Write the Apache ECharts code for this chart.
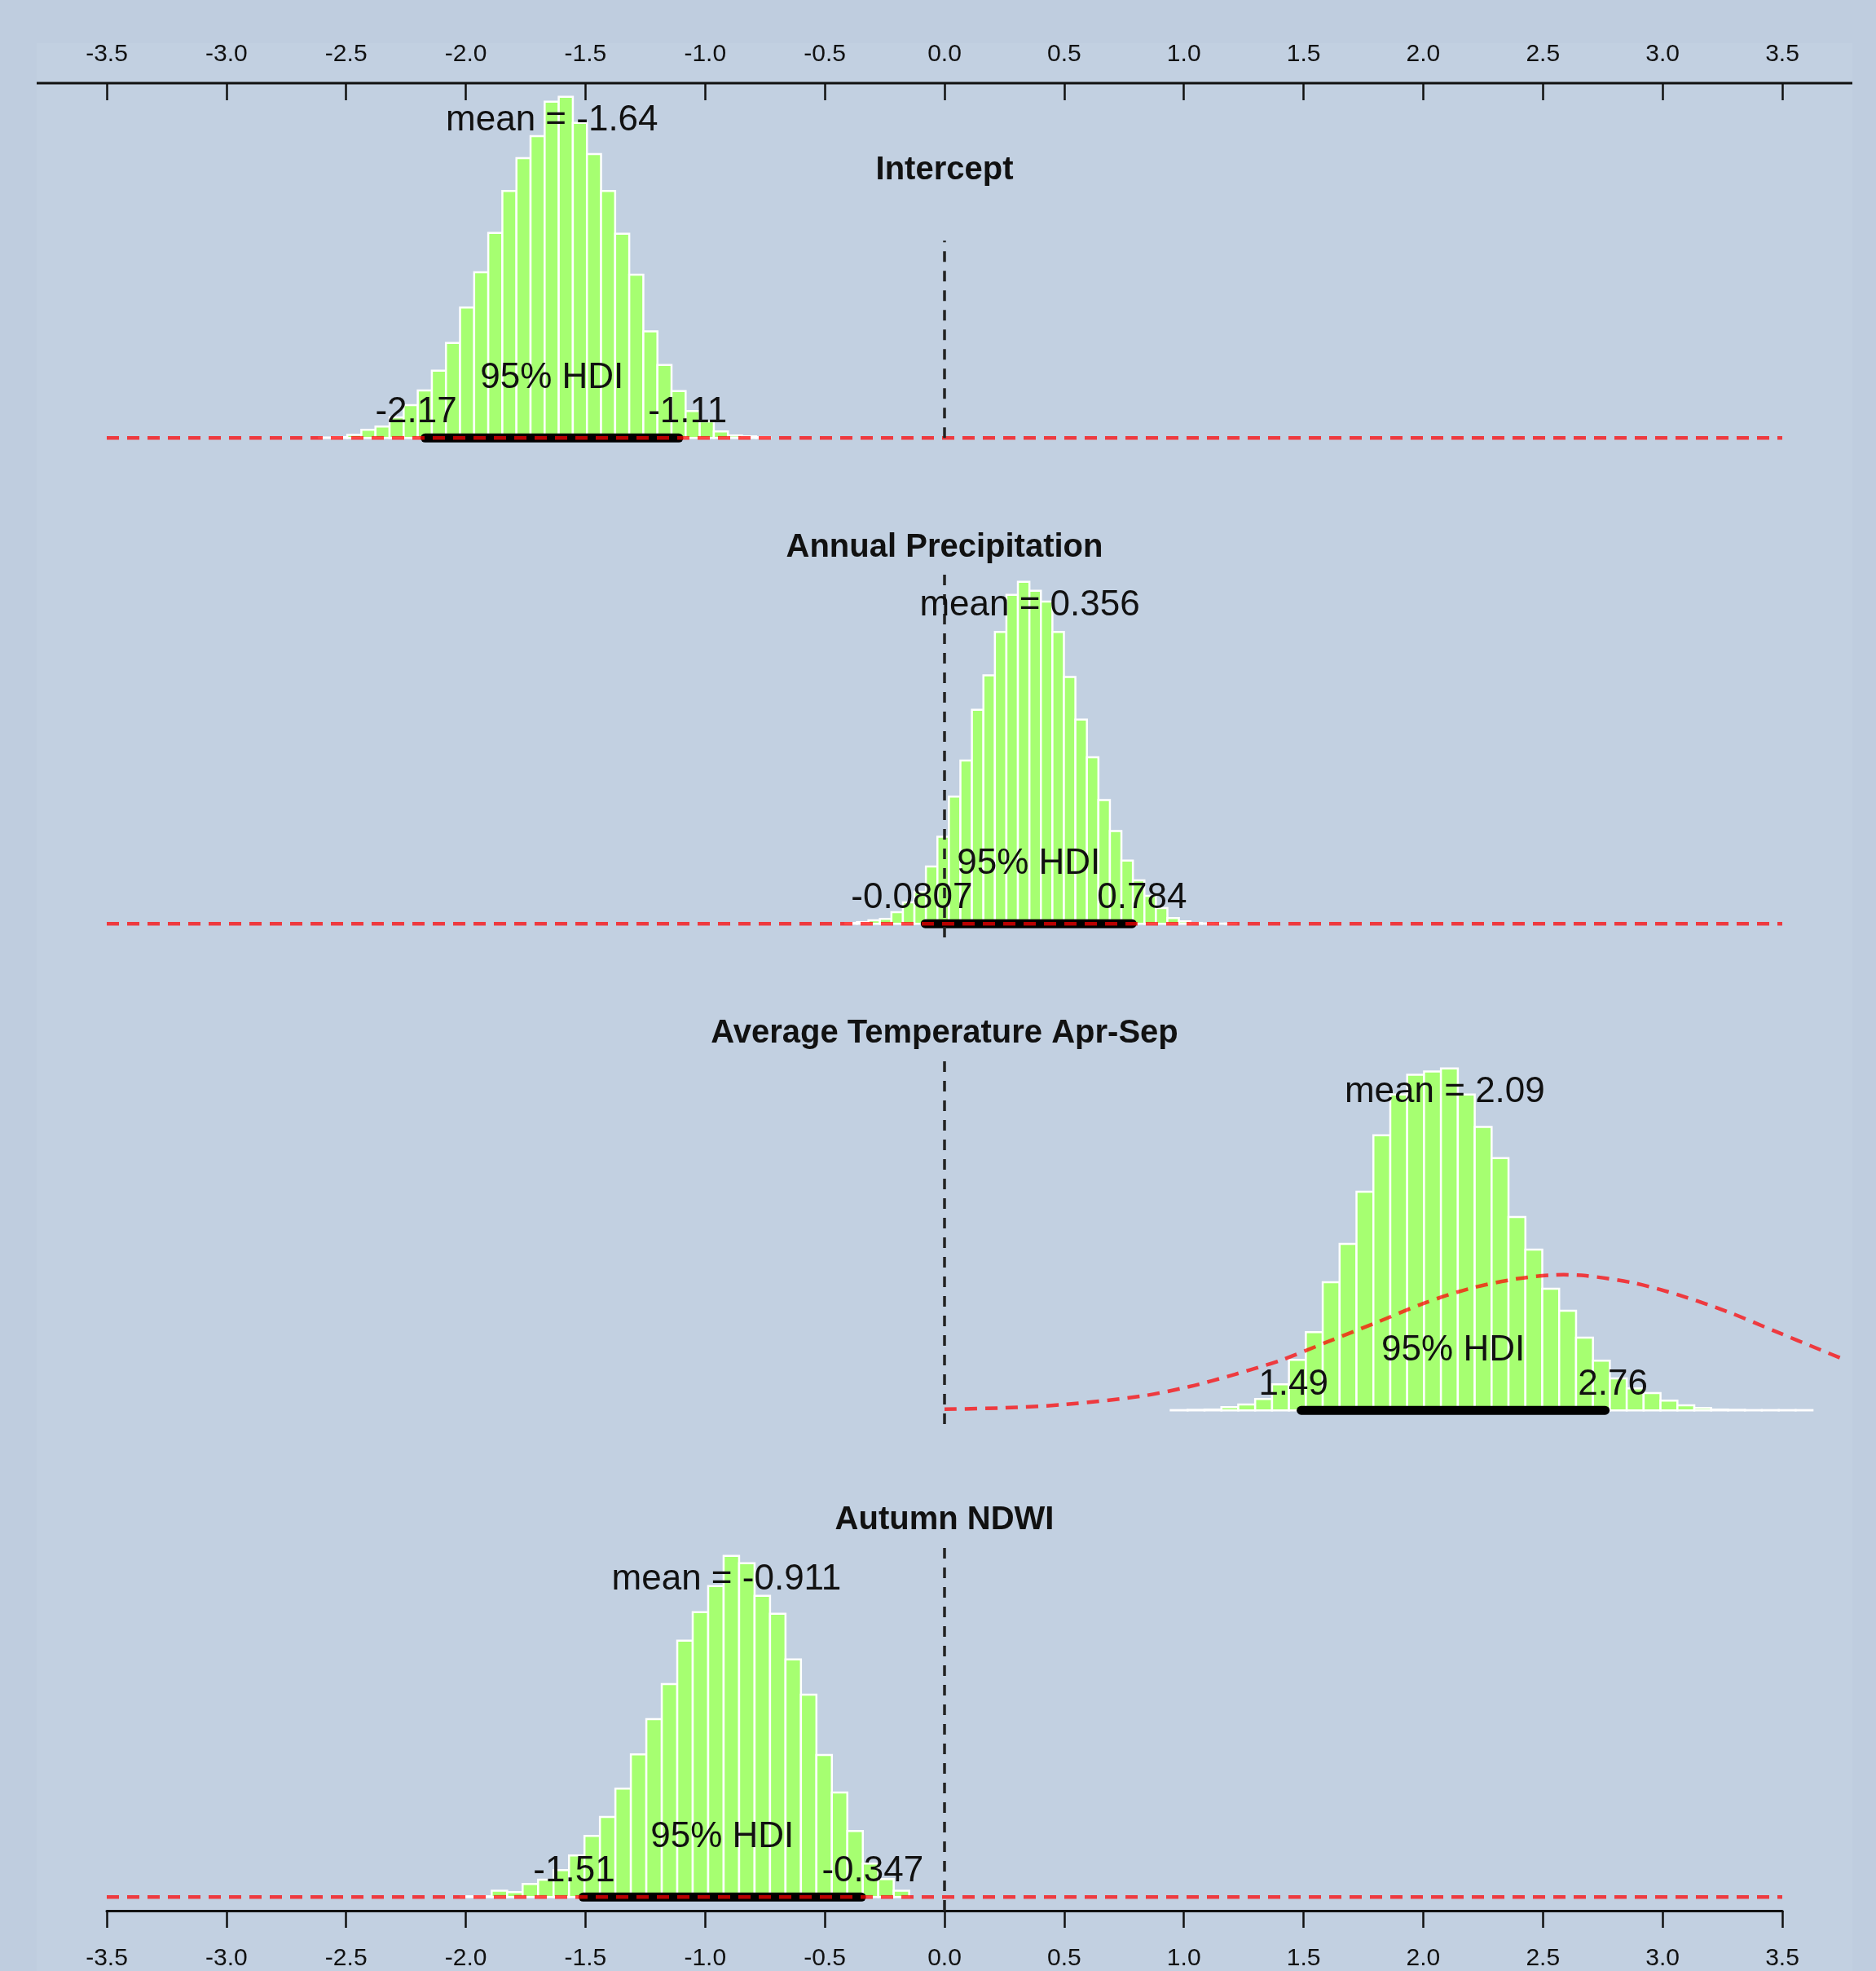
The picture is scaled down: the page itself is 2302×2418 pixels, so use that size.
<!DOCTYPE html>
<html>
<head>
<meta charset="utf-8">
<title>Posterior distributions of model coefficients</title>
<script src="https://cdn.jsdelivr.net/npm/echarts@6.0.0/dist/echarts.min.js"></script>
<style>
  html, body { margin: 0; padding: 0; background: #bfcddf; }
  #frame { position: absolute; left: 45px; top: 53px; width: 2228px; height: 2365px; background: #c2d0e1; }
  #chart { position: absolute; left: 0; top: 0; width: 2302px; height: 2418px; }
</style>
</head>
<body>
<div id="frame"></div>
<div id="chart"></div>
<script>
// ---- shared x scale ----
const tickMin = -3.5;
const tickMax = 3.5;
const tickStep = 0.5;

// ---- Intercept ----
const interceptTitle = 'Intercept';
const interceptBinStart = -2.613;
const interceptBinWidth = 0.0589;
const interceptDensity = [0.002, 0.004, 0.014, 0.037, 0.051, 0.092, 0.147, 0.213, 0.301, 0.426,
  0.585, 0.743, 0.919, 1.107, 1.254, 1.353, 1.507, 1.529, 1.412, 1.272, 1.107, 0.915, 0.732,
  0.478, 0.327, 0.210, 0.121, 0.074, 0.029, 0.011, 0.007, 0.004];
const interceptMean = -1.64;
const interceptHdi = [-2.17, -1.11];
const interceptPriorX = [-3.5, 3.5];
const interceptPriorY = [0, 0];

// ---- Annual Precipitation ----
const precipTitle = 'Annual Precipitation';
const precipBinStart = -0.414;
const precipBinWidth = 0.04804;
const precipDensity = [0.004, 0.009, 0.018, 0.026, 0.062, 0.115, 0.172, 0.308, 0.467, 0.683,
  0.877, 1.150, 1.335, 1.568, 1.767, 1.837, 1.789, 1.731, 1.568, 1.326, 1.097, 0.894, 0.665,
  0.498, 0.339, 0.233, 0.150, 0.084, 0.031, 0.013, 0.004, 0.002, 0.001, 0.001];
const precipMean = 0.356;
const precipHdi = [-0.0807, 0.784];
const precipPriorX = [-3.5, 3.5];
const precipPriorY = [0, 0];

// ---- Average Temperature Apr-Sep ----
const tempTitle = 'Average Temperature Apr-Sep';
const tempBinStart = 0.945;
const tempBinWidth = 0.07056;
const tempDensity = [0.001, 0.002, 0.003, 0.012, 0.021, 0.041, 0.094, 0.182, 0.282, 0.462,
  0.600, 0.788, 0.991, 1.138, 1.209, 1.221, 1.232, 1.138, 1.021, 0.909, 0.697, 0.579, 0.438,
  0.359, 0.262, 0.179, 0.115, 0.079, 0.062, 0.035, 0.018, 0.009, 0.003, 0.002, 0.001, 0.001,
  0.001, 0.001];
const tempMean = 2.09;
const tempHdi = [1.49, 2.76];
const tempPriorX = [0, 0.25, 0.5, 0.82, 1.02, 1.21, 1.41, 1.6, 1.8, 2.0, 2.19, 2.39, 2.55,
  2.68, 2.88, 3.07, 3.27, 3.47, 3.66, 3.77];
const tempPriorY = [0.004, 0.009, 0.021, 0.051, 0.085, 0.129, 0.182, 0.247, 0.315, 0.385,
  0.438, 0.474, 0.488, 0.485, 0.459, 0.415, 0.356, 0.285, 0.218, 0.179];

// ---- Autumn NDWI ----
const ndwiTitle = 'Autumn NDWI';
const ndwiBinStart = -2.021;
const ndwiBinWidth = 0.0646;
const ndwiDensity = [0.003, 0.003, 0.026, 0.020, 0.053, 0.070, 0.109, 0.169, 0.248, 0.325,
  0.440, 0.579, 0.722, 0.864, 1.040, 1.156, 1.262, 1.384, 1.354, 1.222, 1.149, 0.964, 0.821,
  0.576, 0.424, 0.268, 0.136, 0.073, 0.026];
const ndwiMean = -0.911;
const ndwiHdi = [-1.51, -0.347];
const ndwiPriorX = [-3.5, 3.5];
const ndwiPriorY = [0, 0];

// ---- assemble panels ----
const panels = [
  { title: interceptTitle, start: interceptBinStart, width: interceptBinWidth, density: interceptDensity,
    mean: interceptMean, hdi: interceptHdi, priorX: interceptPriorX, priorY: interceptPriorY },
  { title: precipTitle, start: precipBinStart, width: precipBinWidth, density: precipDensity,
    mean: precipMean, hdi: precipHdi, priorX: precipPriorX, priorY: precipPriorY },
  { title: tempTitle, start: tempBinStart, width: tempBinWidth, density: tempDensity,
    mean: tempMean, hdi: tempHdi, priorX: tempPriorX, priorY: tempPriorY },
  { title: ndwiTitle, start: ndwiBinStart, width: ndwiBinWidth, density: ndwiDensity,
    mean: ndwiMean, hdi: ndwiHdi, priorX: ndwiPriorX, priorY: ndwiPriorY }
];

// plot regions, title rows and extent of the zero reference line (fractions of the peak)
const layout = [
  { top: 102, height: 452, titleY: 209, zeroSpan: [0, 0.578] },
  { top: 697, height: 453, titleY: 672, zeroSpan: [-0.04, 1.04] },
  { top: 1294, height: 453, titleY: 1268, zeroSpan: [-0.04, 1.04] },
  { top: 1892, height: 452, titleY: 1865, zeroSpan: [-0.04, 1.04] }
];

const FONT = '"Liberation Sans", Arial, Helvetica, sans-serif';
const BAR_FILL = '#a6ff71';
const TEXT = '#111';
const PRIOR_RED = 'rgba(255,0,0,0.72)';

const measureCtx = document.createElement('canvas').getContext('2d');
function textWidth(s, size, weight) {
  measureCtx.font = (weight || 'normal') + ' ' + size + 'px ' + FONT;
  return measureCtx.measureText(s).width;
}
function textEl(s, x, y, align, size, weight) {
  return {
    type: 'text', x: x, y: y,
    style: { text: s, fill: TEXT, fontSize: size, fontFamily: FONT, fontWeight: weight || 'normal',
             align: align, verticalAlign: 'middle' }
  };
}

const grids = [], xAxes = [], yAxes = [], series = [];

panels.forEach(function (p, i) {
  const lay = layout[i];
  const peak = Math.max.apply(null, p.density);
  grids.push({ left: 131, width: 2056, top: lay.top, height: lay.height, outerBoundsMode: 'none', containLabel: false });

  const isTop = i === 0, isBottom = i === panels.length - 1;
  xAxes.push({
    type: 'value', gridIndex: i, min: tickMin, max: tickMax, interval: tickStep,
    position: isBottom ? 'bottom' : 'top',
    show: isTop || isBottom,
    axisLine: { show: isBottom, onZero: false, lineStyle: { color: TEXT, width: 3 } },
    axisTick: { show: true, inside: isTop, length: 21, lineStyle: { color: TEXT, width: 2.5 } },
    axisLabel: { show: true, margin: isTop ? 20 : 44, fontSize: 30, fontFamily: FONT, color: TEXT,
                 showMinLabel: true, showMaxLabel: true, formatter: function (v) { return v.toFixed(1); } },
    splitLine: { show: false }
  });
  yAxes.push({ type: 'value', gridIndex: i, show: false, min: -0.04 * peak, max: 1.04 * peak, splitLine: { show: false } });

  const bins = p.density.map(function (d, k) {
    return [p.start + k * p.width, p.start + (k + 1) * p.width, d];
  });

  // histogram bars
  series.push({
    type: 'custom', xAxisIndex: i, yAxisIndex: i, z: 2, clip: false,
    data: bins, encode: { x: [0, 1], y: 2 },
    renderItem: function (params, api) {
      const a = api.coord([api.value(0), api.value(2)]);
      const b = api.coord([api.value(1), 0]);
      return { type: 'rect', shape: { x: a[0], y: a[1], width: b[0] - a[0], height: b[1] - a[1] },
               style: { fill: BAR_FILL, stroke: '#ffffff', lineWidth: 2.5 } };
    }
  });

  // 95% HDI bar
  series.push({
    type: 'line', xAxisIndex: i, yAxisIndex: i, z: 3, symbol: 'none', silent: true, clip: false,
    data: [[p.hdi[0], 0], [p.hdi[1], 0]],
    lineStyle: { color: '#000', width: 11, cap: 'round' }
  });

  // prior density (red dashed), may run past the axis end
  const priorPts = p.priorX.map(function (x, k) { return [x, p.priorY[k]]; });
  series.push({
    type: 'custom', xAxisIndex: i, yAxisIndex: i, z: 4, clip: false, silent: true,
    data: priorPts, encode: { x: 0, y: 1 },
    renderItem: function (params, api) {
      if (params.dataIndex !== 0) return null;
      const pts = priorPts.map(function (d) { return api.coord(d); });
      return { type: 'polyline', shape: { points: pts, smooth: pts.length > 2 ? 0.3 : 0 },
               style: { stroke: PRIOR_RED, lineWidth: 4.5, lineDash: [15, 10], fill: null } };
    }
  });

  // zero reference line
  series.push({
    type: 'line', xAxisIndex: i, yAxisIndex: i, z: 5, symbol: 'none', silent: true, clip: false,
    data: [[0, lay.zeroSpan[0] * peak], [0, lay.zeroSpan[1] * peak]],
    lineStyle: { color: '#222', width: 3.5, type: [13, 11] }
  });

  // title, mean and HDI annotations
  series.push({
    type: 'custom', xAxisIndex: i, yAxisIndex: i, z: 6, clip: false, silent: true,
    data: [[p.mean, 0]], encode: { x: 0, y: 1 },
    renderItem: function (params, api) {
      const zero = api.coord([0, 0]);
      const meanPt = api.coord([p.mean, 0.9 * peak]);
      const lo = api.coord([p.hdi[0], 0]);
      const hi = api.coord([p.hdi[1], 0]);
      const mid = api.coord([(p.hdi[0] + p.hdi[1]) / 2, 0]);
      const loText = String(p.hdi[0]);
      const hiText = String(p.hdi[1]);
      const loW = textWidth(loText, 44);
      const hiW = textWidth(hiText, 44);
      return {
        type: 'group',
        children: [
          textEl(p.title, zero[0], lay.titleY, 'center', 40, 'bold'),
          textEl('mean = ' + p.mean, meanPt[0], meanPt[1] - 13, 'center', 44),
          textEl('95% HDI', mid[0], mid[1] - 73, 'center', 44),
          textEl(loText, lo[0] - 0.61 * loW, lo[1] - 31, 'left', 44),
          textEl(hiText, hi[0] - 0.39 * hiW, hi[1] - 31, 'left', 44)
        ]
      };
    }
  });
});

const chart = echarts.init(document.getElementById('chart'), null, { renderer: 'canvas' });
chart.setOption({
  backgroundColor: 'transparent',
  animation: false,
  grid: grids,
  xAxis: xAxes,
  yAxis: yAxes,
  series: series,
  graphic: [
    { type: 'line', shape: { x1: 45, y1: 102, x2: 2273, y2: 102 },
      style: { stroke: TEXT, lineWidth: 3 }, z: 10, silent: true }
  ]
});
</script>
</body>
</html>
